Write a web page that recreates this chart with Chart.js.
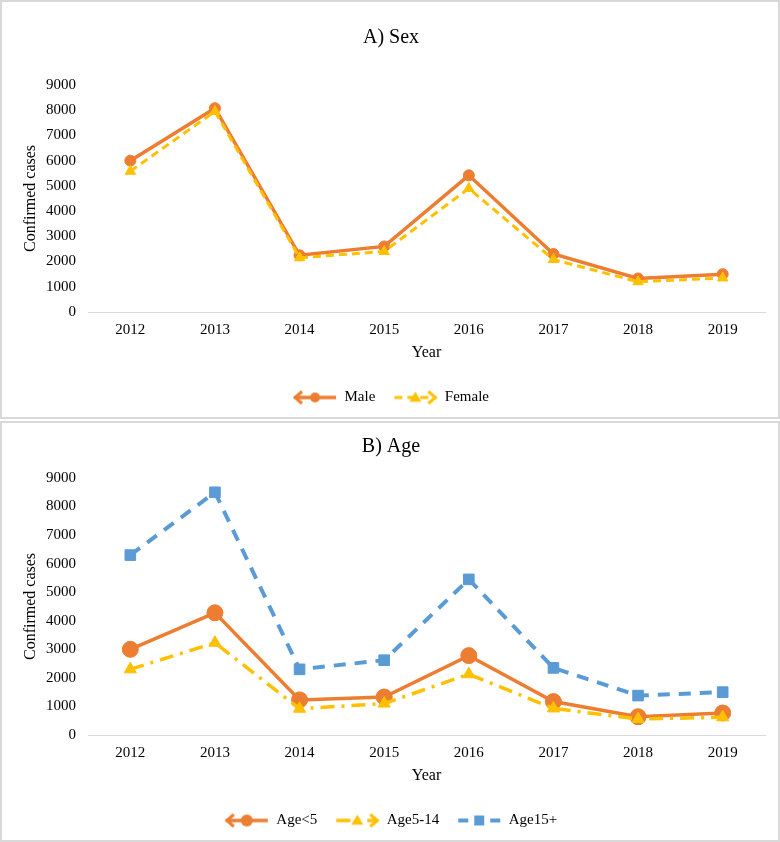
<!DOCTYPE html>
<html>
<head>
<meta charset="utf-8">
<script src="https://cdn.jsdelivr.net/npm/chart.js@4.4.1/dist/chart.umd.min.js"></script>
<style>
  html, body { margin: 0; padding: 0; background: #fff; }
  .panel { position: absolute; left: 0; width: 780px; box-sizing: border-box; border: 2px solid #d9d9d9; background: #fff; }
  #panel-a { top: 0; height: 419px; }
  #panel-b { top: 421px; height: 421px; }
  canvas { display: block; }
</style>
</head>
<body>
<div class="panel" id="panel-a"><canvas id="chart-a"></canvas></div>
<div class="panel" id="panel-b"><canvas id="chart-b"></canvas></div>
<script>
// data
const years = ['2012', '2013', '2014', '2015', '2016', '2017', '2018', '2019'];
const maleCases = [6000, 8080, 2250, 2600, 5420, 2300, 1330, 1500];
const femaleCases = [5580, 7950, 2150, 2400, 4900, 2080, 1200, 1350];
const ageUnder5 = [3000, 4280, 1230, 1330, 2780, 1170, 640, 770];
const age5to14 = [2300, 3230, 920, 1100, 2130, 930, 560, 620];
const age15plus = [6300, 8500, 2300, 2620, 5450, 2350, 1380, 1500];
const yMax = 9000;
const yStep = 1000;

const ORANGE = '#ED7D31';
const YELLOW = '#FFC000';
const BLUE = '#5B9BD5';
const FONT = "'Liberation Serif', 'Times New Roman', serif";

// small canvas used as legend symbol: line + marker (+ the odd arrow tip Excel left behind)
function legendIcon(color, dash, width, marker, size, arrow) {
  const c = document.createElement('canvas');
  c.width = 46; c.height = 16;
  const g = c.getContext('2d');
  g.strokeStyle = color; g.fillStyle = color;
  g.lineWidth = width;
  g.setLineDash(dash);
  g.beginPath(); g.moveTo(2, 8); g.lineTo(44, 8); g.stroke();
  g.setLineDash([]);
  g.lineWidth = 3;
  if (arrow === 'left') {
    g.beginPath(); g.moveTo(10, 2); g.lineTo(3, 8); g.lineTo(10, 14); g.stroke();
  } else if (arrow === 'right') {
    g.beginPath(); g.moveTo(36, 2); g.lineTo(43, 8); g.lineTo(36, 14); g.stroke();
  }
  g.beginPath();
  if (marker === 'circle') {
    g.arc(23, 8, size, 0, Math.PI * 2);
  } else if (marker === 'triangle') {
    g.moveTo(23, 8 - size); g.lineTo(23 + size, 8 + size * 0.7); g.lineTo(23 - size, 8 + size * 0.7); g.closePath();
  } else {
    g.rect(23 - size, 8 - size, size * 2, size * 2);
  }
  g.fill();
  return c;
}

function makeChart(id, titleText, titlePad, datasets, icons) {
  const canvas = document.getElementById(id);
  const h = id === 'chart-a' ? 415 : 417;
  canvas.width = 776; canvas.height = h;
  canvas.style.width = '776px'; canvas.style.height = h + 'px';

  return new Chart(canvas.getContext('2d'), {
    type: 'line',
    data: { labels: years, datasets: datasets },
    options: {
      responsive: false,
      animation: false,
      layout: { padding: { left: 15, right: 13, top: 0, bottom: 2 } },
      plugins: {
        tooltip: { enabled: false },
        title: {
          display: true,
          text: titleText,
          color: '#000',
          font: { family: FONT, size: 20, weight: 'normal' },
          padding: titlePad
        },
        legend: {
          position: 'bottom',
          labels: {
            usePointStyle: true,
            pointStyleWidth: 44,
            padding: 18,
            color: '#000',
            font: { family: FONT, size: 15 },
            generateLabels: (chart) => {
              const items = Chart.defaults.plugins.legend.labels.generateLabels(chart);
              items.sort((a, b) => a.datasetIndex - b.datasetIndex);
              items.forEach(it => { it.pointStyle = icons[it.datasetIndex]; });
              return items;
            }
          }
        }
      },
      scales: {
        x: {
          offset: true,
          grid: { display: false, drawTicks: false },
          border: { display: true, color: '#d9d9d9', width: 1 },
          ticks: { color: '#000', padding: 9, font: { family: FONT, size: 15 } },
          title: { display: true, text: 'Year', color: '#000', font: { family: FONT, size: 16 }, padding: { top: 0, bottom: 10 } },
          afterFit: (s) => { s.height = 60; }
        },
        y: {
          min: 0,
          max: yMax,
          grid: { display: false, drawTicks: false },
          border: { display: false },
          ticks: { stepSize: yStep, color: '#000', padding: 12, font: { family: FONT, size: 15 }, callback: (v) => String(v) },
          title: { display: true, text: 'Confirmed cases', color: '#000', font: { family: FONT, size: 16 }, padding: { top: 4, bottom: 0 } },
          afterFit: (s) => { s.width = 71; }
        }
      }
    }
  });
}

makeChart('chart-a', 'A) Sex', { top: 24, bottom: 35 }, [
  {
    label: 'Male', data: maleCases, order: 2,
    borderColor: ORANGE, backgroundColor: ORANGE, borderWidth: 3.5,
    pointStyle: 'circle', pointRadius: 5.5, pointBorderWidth: 1, pointBackgroundColor: ORANGE, pointBorderColor: ORANGE,
    tension: 0
  },
  {
    label: 'Female', data: femaleCases, order: 1,
    borderColor: YELLOW, backgroundColor: YELLOW, borderWidth: 3, borderDash: [8, 5],
    pointStyle: 'triangle', pointRadius: 6, pointBorderWidth: 1, pointBackgroundColor: YELLOW, pointBorderColor: YELLOW,
    tension: 0
  }
], [
  legendIcon(ORANGE, [], 3.5, 'circle', 5, 'left'),
  legendIcon(YELLOW, [8, 5], 3, 'triangle', 6, 'right')
]);

makeChart('chart-b', 'B) Age', { top: 12, bottom: 19 }, [
  {
    label: 'Age<5', data: ageUnder5, order: 3,
    borderColor: ORANGE, backgroundColor: ORANGE, borderWidth: 3.5,
    pointStyle: 'circle', pointRadius: 8, pointBorderWidth: 1, pointBackgroundColor: ORANGE, pointBorderColor: ORANGE,
    tension: 0
  },
  {
    label: 'Age5-14', data: age5to14, order: 2,
    borderColor: YELLOW, backgroundColor: YELLOW, borderWidth: 3.5, borderDash: [14, 7, 3, 7],
    pointStyle: 'triangle', pointRadius: 7, pointBorderWidth: 1, pointBackgroundColor: YELLOW, pointBorderColor: YELLOW,
    tension: 0
  },
  {
    label: 'Age15+', data: age15plus, order: 1,
    borderColor: BLUE, backgroundColor: BLUE, borderWidth: 4, borderDash: [12, 9],
    pointStyle: 'rect', pointRadius: 7.5, pointBorderWidth: 1, pointBackgroundColor: BLUE, pointBorderColor: BLUE,
    tension: 0
  }
], [
  legendIcon(ORANGE, [], 3.5, 'circle', 6, 'left'),
  legendIcon(YELLOW, [14, 7, 3, 7], 3.5, 'triangle', 6, 'right'),
  legendIcon(BLUE, [10, 6], 4, 'rect', 5, null)
]);
</script>
</body>
</html>
